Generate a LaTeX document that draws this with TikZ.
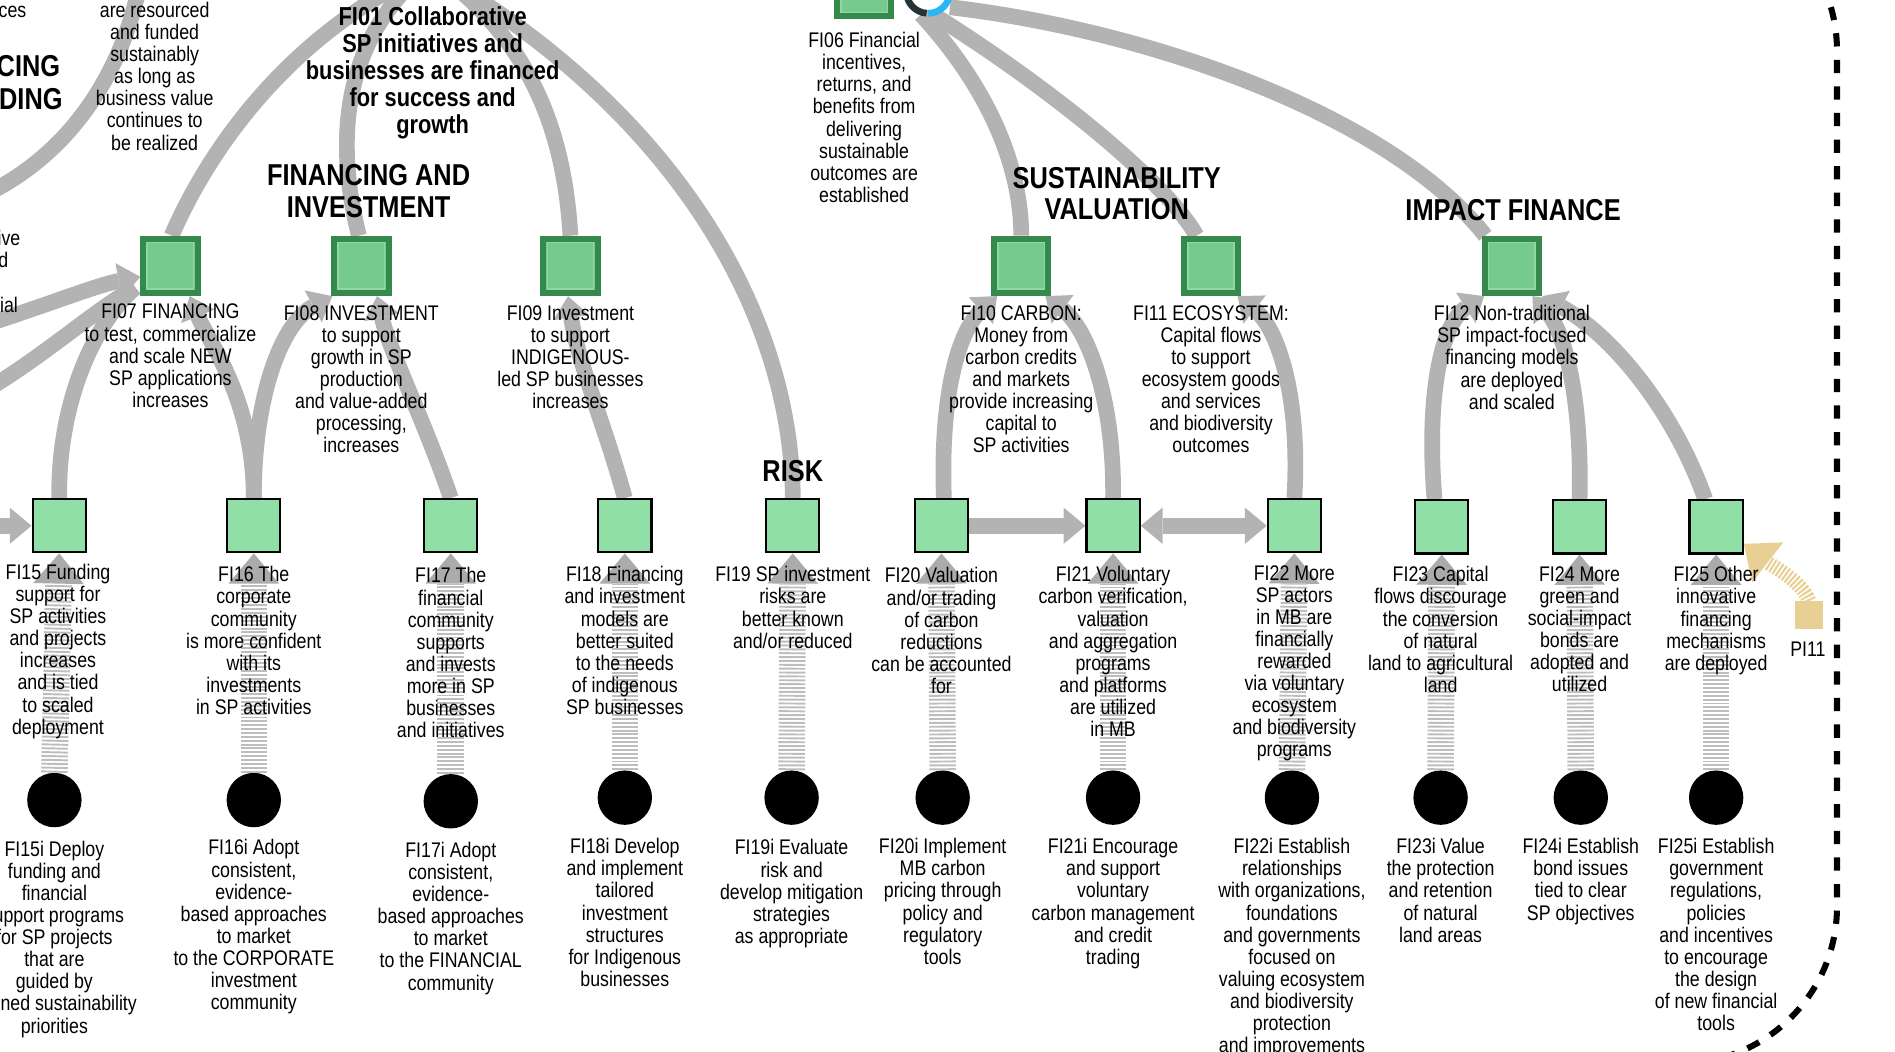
\documentclass[tikz,border=0pt]{standalone}
\usepackage{fontspec}
\setmainfont{Liberation Sans}[FakeStretch=0.84]
\usetikzlibrary{arrows.meta}
\definecolor{bandgray}{HTML}{B3B3B3}
\definecolor{stripegray}{HTML}{BDBDBD}
\definecolor{tipgray}{HTML}{ABABAB}
\definecolor{sqdark}{HTML}{338A4C}
\definecolor{sqfill}{HTML}{76C98F}
\definecolor{sqinner}{HTML}{92D6A4}
\definecolor{botfill}{HTML}{90DFA6}
\definecolor{tanc}{HTML}{E8CF94}
\definecolor{ringdark}{HTML}{263238}
\definecolor{ringblue}{HTML}{29B6F6}
\begin{document}
\begin{tikzpicture}[x=1pt,y=-1pt,
  band/.style={draw=bandgray, line width=13pt, line cap=butt},
  bandarrow/.style={band, -{Triangle[width=30pt,length=18pt,line width=0pt]}},
  bandboth/.style={band, {Triangle[width=30pt,length=18pt,line width=0pt]}-{Triangle[width=30pt,length=18pt,line width=0pt]}},
  stripe/.style={draw=stripegray, line width=22pt, dash pattern=on 1.6pt off 1.6pt, -{Triangle[width=42pt,length=25pt,line width=0pt,color=tipgray]}},
  tanstripe/.style={draw=tanc, line width=12pt, dash pattern=on 1.7pt off 1.5pt, -{Triangle[width=42pt,length=25pt,line width=0pt,color=tanc]}},
  topsq/.style={rectangle, draw=sqdark, line width=5pt, fill=sqfill, minimum size=45pt, inner sep=0pt,
    path picture={\draw[sqinner, line width=1.2pt] ([shift={(3.3pt,3.3pt)}]path picture bounding box.south west) rectangle ([shift={(-3.3pt,-3.3pt)}]path picture bounding box.north east);}},
  botsq/.style={rectangle, draw=black, line width=1.8pt, fill=botfill, minimum size=44pt, inner sep=0pt},
  dot/.style={circle, fill=black, minimum size=45pt, inner sep=0pt},
  pisq/.style={rectangle, fill=tanc, minimum size=23pt, inner sep=0pt},
  lbl/.style={align=center, inner sep=0pt, font=\fontsize{17.5}{18.3}\selectfont},
  hdr/.style={align=center, inner sep=0pt, font=\bfseries\fontsize{25}{26}\selectfont},
  ttl/.style={align=center, inner sep=0pt, font=\bfseries\fontsize{21.5}{22.3}\selectfont},
  border/.style={draw=black, line width=5pt, dash pattern=on 11pt off 11pt, rounded corners=130pt}
]
\useasboundingbox (0,0) rectangle (1568,870);
\clip (0,0) rectangle (1568,870);

% ---------- nodes (positions) ----------
\node[topsq] (fi06) at (715,-9) {};
\node[circle, minimum size=36pt, inner sep=0pt] (ring) at (768,-7) {};
\node[topsq] (fi07) at (141,220) {};
\node[topsq] (fi08) at (299,220) {};
\node[topsq] (fi09) at (472,220) {};
\node[topsq] (fi10) at (845,220) {};
\node[topsq] (fi11) at (1002,220) {};
\node[topsq] (fi12) at (1251,220) {};

\node[botsq] (fi15) at (49,435) {};
\node[botsq] (fi16) at (210,435) {};
\node[botsq] (fi17) at (373,435) {};
\node[botsq] (fi18) at (517,435) {};
\node[botsq] (fi19) at (656,435) {};
\node[botsq] (fi20) at (779,435) {};
\node[botsq] (fi21) at (921,435) {};
\node[botsq] (fi22) at (1071,435) {};
\node[botsq] (fi23) at (1193,436) {};
\node[botsq] (fi24) at (1307,436) {};
\node[botsq] (fi25) at (1420,436) {};

\node[dot] (c15) at (45,662) {};
\node[dot] (c16) at (210,662) {};
\node[dot] (c17) at (373,663) {};
\node[dot] (c18) at (517,660) {};
\node[dot] (c19) at (655,660) {};
\node[dot] (c20) at (780,660) {};
\node[dot] (c21) at (921,660) {};
\node[dot] (c22) at (1069,660) {};
\node[dot] (c23) at (1192,660) {};
\node[dot] (c24) at (1308,660) {};
\node[dot] (c25) at (1420,660) {};

\node[pisq] (pi11) at (1497,509) {};

\coordinate (e01a) at (335,-15);
\coordinate (e01b) at (345,-18);
\coordinate (e01c) at (372,-15);
\coordinate (e01d) at (378,-12);
\coordinate (r10) at (762,12);
\coordinate (r11) at (772,12);
\coordinate (r12) at (786,6);
\coordinate (arcL1) at (-10,160);
\coordinate (arcL2) at (115,-10);
\coordinate (inA) at (-10,268);
\coordinate (inB) at (-10,322);
\coordinate (inBend) at (112,238);
\coordinate (in15) at (-10,435);

% ---------- gray bands ----------
\begin{scope}[on background layer/.style={}]
\draw[band] (arcL1) .. controls (60,125) and (100,60) .. (arcL2);
\draw[band] ([xshift=1pt]fi07.north) .. controls (170,130) and (230,40) .. (e01a);
\draw[band] ([xshift=-2pt]fi08.north) .. controls (278,120) and (282,40) .. (e01b);
\draw[band] (fi09.north) .. controls (467,110) and (440,40) .. (e01c);
\draw[band] (fi19.north) .. controls (655,260) and (560,100) .. (e01d);
\draw[band] (fi10.north) .. controls (845,140) and (820,75) .. (r10);
\draw[band] ([xshift=-12pt]fi11.north) .. controls (965,150) and (865,70) .. (r11);
\draw[band] ([xshift=-22pt]fi12.north) .. controls (1150,95) and (950,25) .. (r12);

\draw[band] (inB) .. controls (40,292) and (80,255) .. (inBend);
\draw[band] (fi15.north) .. controls (48,330) and (80,265) .. (inBend);
\draw[bandarrow] (inA) .. controls (40,252) and (80,236) .. ([yshift=-9pt]fi07.west);
\draw[bandarrow] (fi16.north) .. controls (210,330) and (172,282) .. ([xshift=16pt]fi07.south);
\draw[bandarrow] (fi16.north) .. controls (210,330) and (232,268) .. ([xshift=-24pt]fi08.south);
\draw[bandarrow] (fi17.north) .. controls (352,350) and (322,290) .. ([xshift=13pt]fi08.south);
\draw[bandarrow] (fi18.north) .. controls (500,350) and (478,300) .. ([xshift=-2pt]fi09.south);
\draw[bandarrow] ([xshift=2pt]fi20.north) .. controls (778,330) and (792,275) .. ([xshift=-20pt]fi10.south);
\draw[bandarrow] (fi21.north) .. controls (922,330) and (900,272) .. ([xshift=20pt]fi10.south);
\draw[bandarrow] (fi22.north) .. controls (1076,330) and (1058,272) .. ([xshift=22pt]fi11.south);
\draw[bandarrow] ([xshift=-6pt]fi23.north) .. controls (1180,330) and (1192,268) .. ([xshift=-23pt]fi12.south);
\draw[bandarrow] (fi24.north) .. controls (1309,330) and (1295,275) .. ([xshift=17pt]fi12.south);
\draw[bandarrow] ([xshift=-9pt]fi25.north) .. controls (1385,340) and (1335,278) .. ([xshift=25pt]fi12.south);

\draw[bandarrow] (in15) -- (fi15.west);
\draw[bandarrow] (fi20.east) -- (fi21.west);
\draw[bandboth] (fi21.east) -- (fi22.west);
\end{scope}

% ---------- striped connectors ----------
\foreach \n in {15,16,17,18,19,20,21,22,23,24,25}{
  \draw[stripe] (c\n.north) -- (fi\n.south);
}
\draw[tanstripe] (pi11.north) .. controls (1490,480) and (1466,468) .. ([yshift=-14pt]fi25.east);

% ---------- redraw squares on top ----------
\foreach \n in {06,07,08,09,10,11,12}{ \node[topsq] at (fi\n) {}; }
\foreach \n in {15,16,17,18,19,20,21,22,23,24,25}{ \node[botsq] at (fi\n) {}; }
\node[pisq] at (pi11) {};

% ring
\draw[ringdark, line width=5.5pt] ([shift={(180:18pt)}]ring.center) arc[start angle=180, end angle=266, radius=18pt];
\draw[ringblue, line width=5.5pt] ([shift={(270:18pt)}]ring.center) arc[start angle=270, end angle=360, radius=18pt];
\draw[ringdark, line width=5.5pt] ([shift={(0:18pt)}]ring.center) arc[start angle=0, end angle=180, radius=18pt];

% ---------- dashed boundary ----------
\draw[border] (-300,-88) rectangle (1520,880);

% ---------- texts ----------
\node[lbl, anchor=north east] (tces) at (22,5) {ces};
\node[hdr, anchor=east] (tcing) at (50,55) {CING};
\node[hdr, anchor=east] (tding) at (52,82) {DING};
\node[lbl, anchor=east] (tive) at (17,197) {ive};
\node[lbl, anchor=east] (td) at (7,215) {d};
\node[lbl, anchor=east] (tial) at (15,252) {ial};
\node[lbl, anchor=north] (tres) at (128,1.5) {are resourced\\and funded\\sustainably\\as long as\\business value\\continues to\\be realized};

\node[ttl, anchor=north] (t01) at (358,5.3) {FI01 Collaborative\\SP initiatives and\\businesses are financed\\for success and\\growth};
\node[hdr, anchor=north] (hfin) at (305,136) {FINANCING AND\\INVESTMENT};
\node[hdr, anchor=north] (hsus) at (924,138) {SUSTAINABILITY\\VALUATION};
\node[hdr] (himp) at (1252,174) {IMPACT FINANCE};
\node[hdr] (hrisk) at (656,390) {RISK};

\node[lbl, anchor=north] (l06) at (715,26.5) {FI06 Financial\\incentives,\\returns, and\\benefits from\\delivering\\sustainable\\outcomes are\\established};
\node[lbl, anchor=north] (l07) at (141,251.5) {FI07 FINANCING\\to test, commercialize\\and scale NEW\\SP applications\\increases};
\node[lbl, anchor=north] (l08) at (299,252.5) {FI08 INVESTMENT\\to support\\growth in SP\\production\\and value-added\\processing,\\increases};
\node[lbl, anchor=north] (l09) at (472,252.5) {FI09 Investment\\to support\\INDIGENOUS-\\led SP businesses\\increases};
\node[lbl, anchor=north] (l10) at (845,252.5) {FI10 CARBON:\\Money from\\carbon credits\\and markets\\provide increasing\\capital to\\SP activities};
\node[lbl, anchor=north] (l11) at (1002,252.5) {FI11 ECOSYSTEM:\\Capital flows\\to support\\ecosystem goods\\and services\\and biodiversity\\outcomes};
\node[lbl, anchor=north] (l12) at (1251,252.5) {FI12 Non-traditional\\SP impact-focused\\financing models\\are deployed\\and scaled};

\node[lbl, anchor=north] (l15) at (48,466.5) {FI15 Funding\\support for\\SP activities\\and projects\\increases\\and is tied\\to scaled\\deployment};
\node[lbl, anchor=north] (l16) at (210,468.5) {FI16 The\\corporate\\community\\is more confident\\with its\\investments\\in SP activities};
\node[lbl, anchor=north] (l17) at (373,469.5) {FI17 The\\financial\\community\\supports\\and invests\\more in SP\\businesses\\and initiatives};
\node[lbl, anchor=north] (l18) at (517,468.5) {FI18 Financing\\and investment\\models are\\better suited\\to the needs\\of indigenous\\SP businesses};
\node[lbl, anchor=north] (l19) at (656,468.5) {FI19 SP investment\\risks are\\better known\\and/or reduced};
\node[lbl, anchor=north] (l20) at (779,469.5) {FI20 Valuation\\and/or trading\\of carbon\\reductions\\can be accounted\\for};
\node[lbl, anchor=north] (l21) at (921,468.5) {FI21 Voluntary\\carbon verification,\\valuation\\and aggregation\\programs\\and platforms\\are utilized\\in MB};
\node[lbl, anchor=north] (l22) at (1071,467.5) {FI22 More\\SP actors\\in MB are\\financially\\rewarded\\via voluntary\\ecosystem\\and biodiversity\\programs};
\node[lbl, anchor=north] (l23) at (1192,468.5) {FI23 Capital\\flows discourage\\the conversion\\of natural\\land to agricultural\\land};
\node[lbl, anchor=north] (l24) at (1307,468.5) {FI24 More\\green and\\social-impact\\bonds are\\adopted and\\utilized};
\node[lbl, anchor=north] (l25) at (1420,468.5) {FI25 Other\\innovative\\financing\\mechanisms\\are deployed};
\node[lbl] (lpi) at (1496,537) {PI11};

\node[lbl, anchor=north] (i15) at (45,695.5) {FI15i Deploy\\funding and\\financial\\support programs\\for SP projects\\that are\\guided by\\defined sustainability\\priorities};
\node[lbl, anchor=north] (i16) at (210,694.5) {FI16i Adopt\\consistent,\\evidence-\\based approaches\\to market\\to the CORPORATE\\investment\\community};
\node[lbl, anchor=north] (i17) at (373,696.5) {FI17i Adopt\\consistent,\\evidence-\\based approaches\\to market\\to the FINANCIAL\\community};
\node[lbl, anchor=north] (i18) at (517,693.5) {FI18i Develop\\and implement\\tailored\\investment\\structures\\for Indigenous\\businesses};
\node[lbl, anchor=north] (i19) at (655,694.5) {FI19i Evaluate\\risk and\\develop mitigation\\strategies\\as appropriate};
\node[lbl, anchor=north] (i20) at (780,693.5) {FI20i Implement\\MB carbon\\pricing through\\policy and\\regulatory\\tools};
\node[lbl, anchor=north] (i21) at (921,693.5) {FI21i Encourage\\and support\\voluntary\\carbon management\\and credit\\trading};
\node[lbl, anchor=north] (i22) at (1069,693.5) {FI22i Establish\\relationships\\with organizations,\\foundations\\and governments\\focused on\\valuing ecosystem\\and biodiversity\\protection\\and improvements};
\node[lbl, anchor=north] (i23) at (1192,693.5) {FI23i Value\\the protection\\and retention\\of natural\\land areas};
\node[lbl, anchor=north] (i24) at (1308,693.5) {FI24i Establish\\bond issues\\tied to clear\\SP objectives};
\node[lbl, anchor=north] (i25) at (1420,693.5) {FI25i Establish\\government\\regulations,\\policies\\and incentives\\to encourage\\the design\\of new financial\\tools};
\end{tikzpicture}
\end{document}
